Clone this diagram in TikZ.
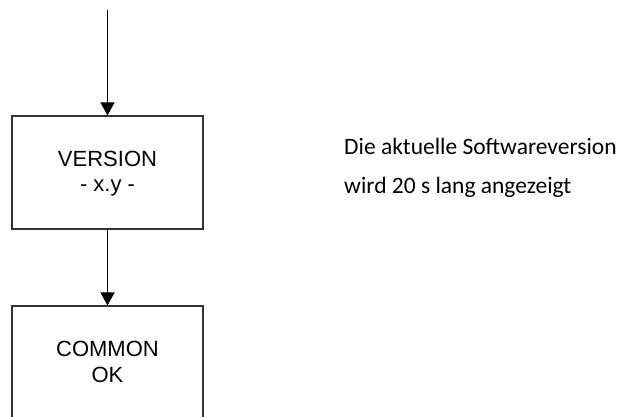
\documentclass[tikz,border=0pt]{standalone}
\usepackage{fontspec}
\setmainfont{Liberation Sans}
\newfontfamily\notefont{Carlito}
\usetikzlibrary{arrows.meta}
\tikzset{
  stepbox/.style={draw=black!80, line width=1.1pt, rectangle, inner sep=0pt},
  boxtext/.style={anchor=base, inner sep=0pt, font=\fontsize{22}{26}\selectfont},
  notetext/.style={anchor=base west, inner sep=0pt, font=\notefont\fontsize{23.5}{28}\selectfont},
  flow/.style={draw=black, line width=1pt, -{Triangle[width=14pt,length=13pt]}}
}
\begin{document}
\begin{tikzpicture}[x=1pt,y=-1pt]
\useasboundingbox (0,0) rectangle (625,417);
\clip (0,0) rectangle (625,417);
% process boxes
\node[stepbox, minimum width=191pt, minimum height=113pt] (version) at (107.5,172.5) {};
\node[stepbox, minimum width=191pt, minimum height=140pt] (common) at (107.5,376) {};
% box labels
\node[boxtext] (vline1) at (107.5,167) {VERSION};
\node[boxtext] (vline2) at (107.5,192) {- x.y -};
\node[boxtext] (cline1) at (107.5,357) {COMMON};
\node[boxtext] (cline2) at (107.5,383) {OK};
% explanatory note
\node[notetext] (note1) at (344,155) {Die aktuelle Softwareversion};
\node[notetext] (note2) at (344,194) {wird 20 s lang angezeigt};
% connectors
\coordinate (entry) at (107.5,10);
\draw[flow] (entry) -- (version.north);
\draw[flow] (version.south) -- (common.north);
\end{tikzpicture}
\end{document}
